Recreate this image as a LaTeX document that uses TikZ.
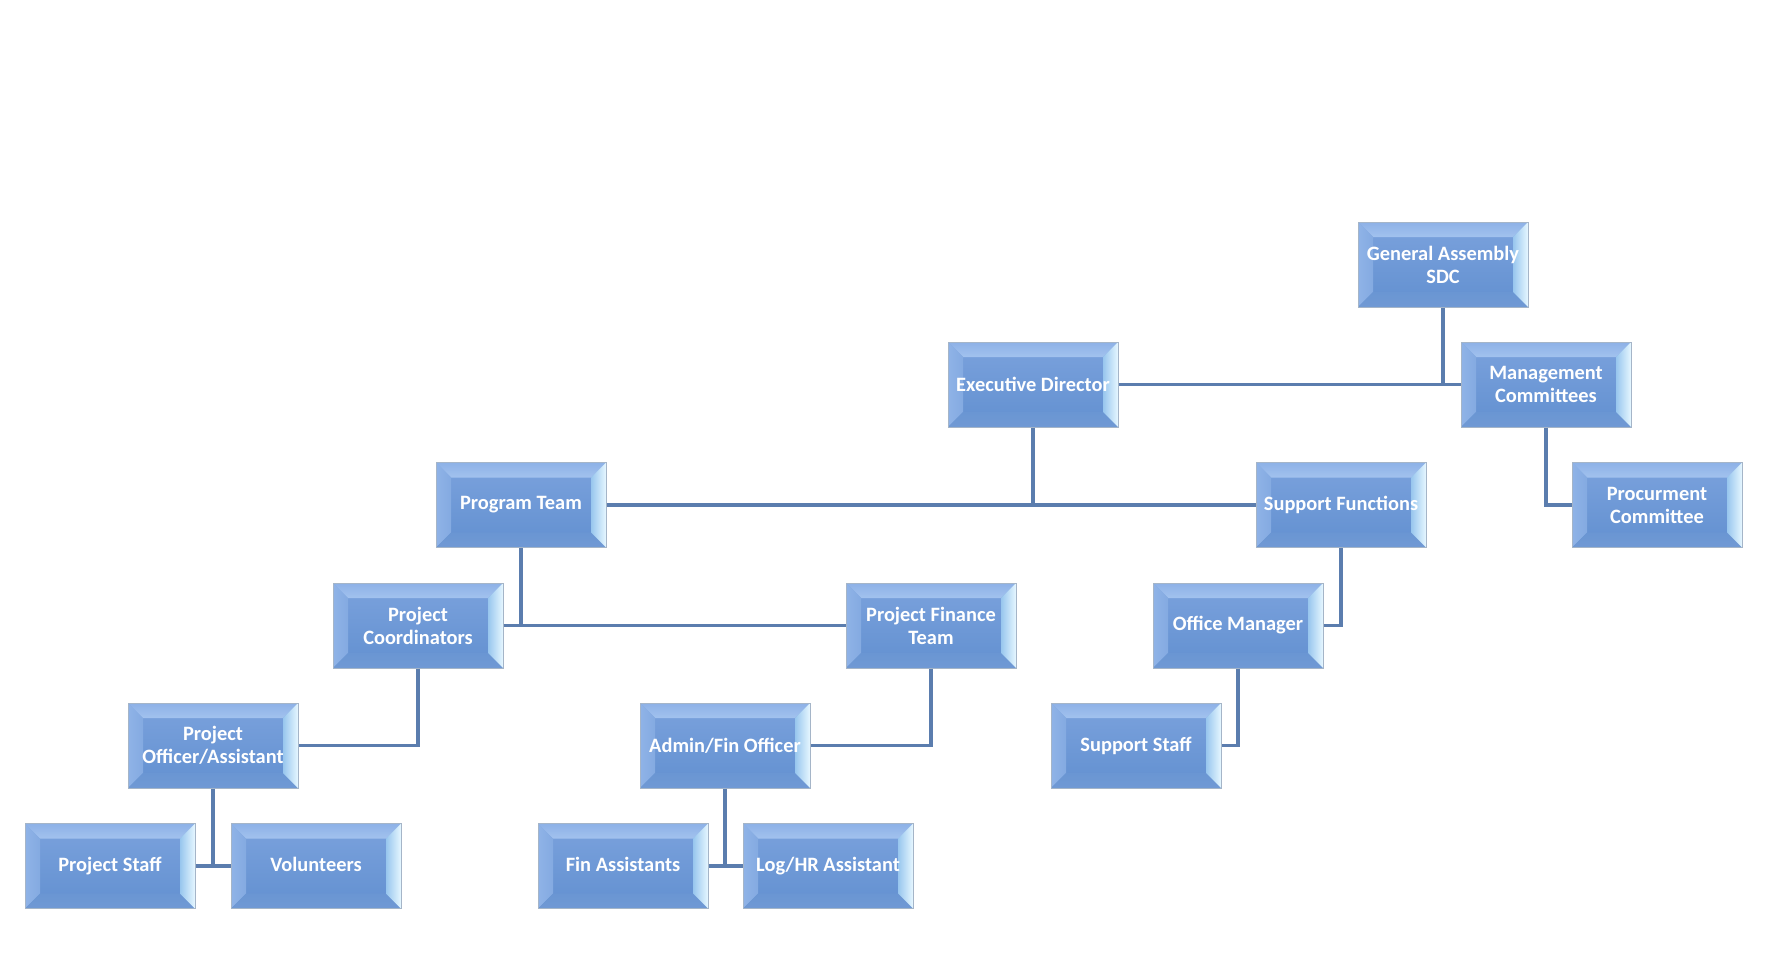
\documentclass[tikz,border=0pt]{standalone}
\usepackage{fontspec}
\setmainfont{Carlito}
\usetikzlibrary{calc}
\definecolor{boxtop}{HTML}{7BA2DD}
\definecolor{boxbot}{HTML}{6290D0}
\definecolor{boxedge}{HTML}{A5B5C8}
\definecolor{bevtopA}{HTML}{8DB1E7}
\definecolor{bevtopB}{HTML}{A2C2EE}
\definecolor{bevleftA}{HTML}{8FB3E7}
\definecolor{bevleftB}{HTML}{84AAE1}
\definecolor{bevrightA}{HTML}{98C6EE}
\definecolor{bevrightB}{HTML}{E6F7FF}
\definecolor{bevbotA}{HTML}{6A96D3}
\definecolor{bevbotB}{HTML}{7099D4}
\definecolor{linkc}{HTML}{5B7DAE}
\tikzset{
  orgbox/.style={
    rectangle, minimum width=85pt, minimum height=42.5pt, inner sep=1pt,
    top color=boxtop, bottom color=boxbot, draw=boxedge, line width=0.5pt,
    text=white, font=\bfseries\fontsize{10.2}{11.5}\selectfont, align=center,
    path picture={
      \coordinate (pw) at (path picture bounding box.north west);
      \coordinate (pe) at (path picture bounding box.north east);
      \coordinate (ps) at (path picture bounding box.south west);
      \coordinate (pr) at (path picture bounding box.south east);
      \shade[top color=bevtopA, bottom color=bevtopB] (pw) -- (pe) -- ($(pe)+(-7.5pt,-7.5pt)$) -- ($(pw)+(7.5pt,-7.5pt)$) -- cycle;
      \shade[left color=bevleftA, right color=bevleftB] (pw) -- ($(pw)+(7.5pt,-7.5pt)$) -- ($(ps)+(7.5pt,7.5pt)$) -- (ps) -- cycle;
      \shade[top color=bevbotA, bottom color=bevbotB] (ps) -- ($(ps)+(7.5pt,7.5pt)$) -- ($(pr)+(-7.5pt,7.5pt)$) -- (pr) -- cycle;
      \shade[left color=bevrightA, right color=bevrightB] (pe) -- ($(pe)+(-7.5pt,-7.5pt)$) -- ($(pr)+(-7.5pt,7.5pt)$) -- (pr) -- cycle;
    }
  },
  link/.style={draw=linkc, line width=1.6pt}
}
\begin{document}
\begin{tikzpicture}[x=0.5pt,y=-0.5pt]
\useasboundingbox (0,0) rectangle (1768,974);
\node[orgbox] (GA) at (1443,264.5) {General Assembly\\SDC};
\node[orgbox] (Exec) at (1033,384.5) {Executive Director};
\node[orgbox] (Mgmt) at (1546,384.5) {Management\\Committees};
\node[orgbox] (Prog) at (521,505) {Program Team};
\node[orgbox] (Supp) at (1341,505) {Support Functions};
\node[orgbox] (Proc) at (1657,505) {Procurment\\Committee};
\node[orgbox] (Coord) at (418,625.5) {Project\\Coordinators};
\node[orgbox] (FinTeam) at (931,625.5) {Project Finance\\Team};
\node[orgbox] (OffMgr) at (1238,625.5) {Office Manager};
\node[orgbox] (ProjOff) at (213,745.5) {Project\\Officer/Assistant};
\node[orgbox] (Admin) at (725,745.5) {Admin/Fin Officer};
\node[orgbox] (SuppStaff) at (1136,745.5) {Support Staff};
\node[orgbox] (Staff) at (110,866) {Project Staff\vphantom{Vf}};
\node[orgbox] (Vol) at (316,866) {Volunteers\vphantom{jf}};
\node[orgbox] (FinAss) at (623,866) {Fin Assistants\vphantom{jf}};
\node[orgbox] (LogHR) at (828,866) {Log/HR Assistant};

\draw[link] (Exec.east) -- (Mgmt.west);
\draw[link] (GA.south) -- (GA.south |- Exec.east);
\draw[link] (Mgmt.south) |- (Proc.west);
\draw[link] (Prog.east) -- (Supp.west);
\draw[link] (Exec.south) -- (Exec.south |- Prog.east);
\draw[link] (Coord.east) -- (FinTeam.west);
\draw[link] (Prog.south) -- (Prog.south |- Coord.east);
\draw[link] (Supp.south) |- (OffMgr.east);
\draw[link] (Coord.south) |- (ProjOff.east);
\draw[link] (FinTeam.south) |- (Admin.east);
\draw[link] (OffMgr.south) |- (SuppStaff.east);
\draw[link] (Staff.east) -- (Vol.west);
\draw[link] (ProjOff.south) -- (ProjOff.south |- Staff.east);
\draw[link] (FinAss.east) -- (LogHR.west);
\draw[link] (Admin.south) -- (Admin.south |- FinAss.east);
\end{tikzpicture}
\end{document}
